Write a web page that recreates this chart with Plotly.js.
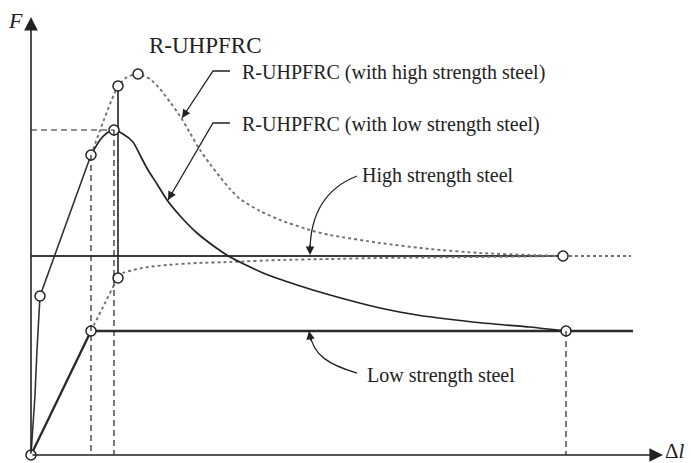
<!DOCTYPE html>
<html>
<head>
<meta charset="utf-8">
<script src="https://cdn.plot.ly/plotly-3.0.1.min.js"></script>
<style>html,body{margin:0;padding:0;background:#fff;}#chart{width:691px;height:463px;}</style>
</head>
<body>
<div id="chart"></div>
<script>
// ---- Data (schematic units: Δl to the right, F upward) ----
// R-UHPFRC with low strength steel (solid curve)
const ruLow_x = [0, 4, 6, 9, 60, 69, 76, 83, 92, 102, 110, 117, 126, 136, 151, 166, 184, 199, 232, 266, 299, 349, 386, 452, 499, 535];
const ruLow_y = [0, 60, 105, 159, 300, 315, 322, 325, 321, 313, 298, 285, 271, 255, 237, 222, 208, 198, 182, 170, 160, 147, 140, 132, 128, 124];
// R-UHPFRC with high strength steel (upper dotted curve after first crack)
const ruHigh_x = [60, 87, 96, 107, 119, 129, 139, 149, 159, 169, 179, 189, 199, 209, 229, 249, 282, 299, 349, 399, 449, 499, 532];
const ruHigh_y = [300, 369, 378, 381, 376, 366, 353, 339, 322, 305, 291, 278, 266, 256, 244, 235, 224, 220, 212, 206, 202, 200, 199];
// drop after peak of high steel composite
const drop_x = [87, 87];
const drop_y = [369, 177];
// lower dotted branch
const ruLower_x = [60, 72, 87, 92, 102, 117, 136, 166, 199, 249, 299, 349, 449, 532];
const ruLower_y = [124, 148, 177, 182, 185, 188, 190, 192, 193, 195, 196, 197, 198, 199];
// High strength steel
const highSteel_x = [0, 532];
const highSteel_y = [199, 199];
const highSteelExt_x = [532, 600];
const highSteelExt_y = [199, 199];
// Low strength steel
const lowSteel_x = [0, 60, 602];
const lowSteel_y = [0, 124, 124];
// Characteristic points (open circles)
const nodes_x = [0, 9, 60, 83, 87, 107, 87, 60, 532, 535];
const nodes_y = [0, 159, 300, 325, 369, 381, 177, 124, 199, 124];

// ---- Styling ----
const FONT = 'Liberation Serif, Times New Roman, serif';
const INK = '#222';
const DOT = '#707070';

const bIdx = 4; // index of first-crack point in ruLow
const traces = [
  {x: highSteel_x, y: highSteel_y, mode: 'lines', line: {color: '#3a3a3a', width: 1.8}},
  {x: highSteelExt_x, y: highSteelExt_y, mode: 'lines', line: {color: DOT, width: 1.8, dash: 'dot'}},
  {x: lowSteel_x, y: lowSteel_y, mode: 'lines', line: {color: '#2a2a2a', width: 2.3}},
  {x: ruHigh_x, y: ruHigh_y, mode: 'lines', line: {color: DOT, width: 1.9, dash: 'dot', shape: 'spline', smoothing: 0.6}},
  {x: ruLower_x, y: ruLower_y, mode: 'lines', line: {color: DOT, width: 1.9, dash: 'dot', shape: 'spline', smoothing: 0.6}},
  {x: ruLow_x.slice(0, bIdx + 1), y: ruLow_y.slice(0, bIdx + 1), mode: 'lines', line: {color: '#333', width: 1.6}},
  {x: ruLow_x.slice(bIdx), y: ruLow_y.slice(bIdx), mode: 'lines', line: {color: INK, width: 1.7, shape: 'spline', smoothing: 0.6}},
  {x: drop_x, y: drop_y, mode: 'lines', line: {color: INK, width: 1.6}},
  {x: nodes_x, y: nodes_y, mode: 'markers', marker: {symbol: 'circle', size: 10, color: '#fff', line: {color: INK, width: 1.5}}}
];
traces.forEach(t => { t.cliponaxis = false; t.hoverinfo = 'skip'; t.type = 'scatter'; });

// dashed guide lines derived from the characteristic points
const dashLine = {color: '#222', width: 1.2, dash: '6px,4px'};
const peakX = nodes_x[3], peakY = nodes_y[3];
const shapes = [
  {type: 'line', xref: 'x', yref: 'y', x0: 0, y0: peakY, x1: peakX, y1: peakY, line: dashLine},
  {type: 'line', xref: 'x', yref: 'y', x0: nodes_x[2], y0: nodes_y[2], x1: nodes_x[2], y1: 0, line: dashLine},
  {type: 'line', xref: 'x', yref: 'y', x0: peakX, y0: peakY, x1: peakX, y1: 0, line: dashLine},
  {type: 'line', xref: 'x', yref: 'y', x0: nodes_x[9], y0: nodes_y[9], x1: nodes_x[9], y1: 0, line: dashLine},
  // leader lines
  {type: 'path', xref: 'x', yref: 'y', path: 'M 199 384 L 182 384 L 151 337', line: {color: INK, width: 1.3}},
  {type: 'path', xref: 'x', yref: 'y', path: 'M 199 332 L 182 332 L 137 255', line: {color: INK, width: 1.3}},
  {type: 'path', xref: 'x', yref: 'y', path: 'M 326 279 C 298 268, 279 245, 279 203', line: {color: INK, width: 1.3}},
  {type: 'path', xref: 'x', yref: 'y', path: 'M 326 82 C 298 90, 282 100, 279 121', line: {color: INK, width: 1.3}}
];

function arrow(x, y, ax, ay, w, s, head) {
  return {x: x, y: y, ax: ax, ay: ay, xref: 'x', yref: 'y', axref: 'x', ayref: 'y',
          text: '', showarrow: true, arrowhead: head, arrowwidth: w, arrowsize: s, arrowcolor: INK, standoff: 0};
}
function label(x, y, text, size, anchor) {
  return {x: x, y: y, xref: 'x', yref: 'y', text: text, showarrow: false, xanchor: anchor || 'left', yanchor: 'middle',
          font: {family: FONT, size: size, color: INK}};
}
function paperLabel(x, y, text, size) {
  return {x: x, y: y, xref: 'paper', yref: 'paper', text: text, showarrow: false, xanchor: 'center', yanchor: 'middle',
          font: {family: FONT, size: size, color: INK}};
}

const annotations = [
  arrow(632, 0, 0, 0, 1.6, 1.7, 2),
  arrow(0, 438, 0, 0, 1.6, 1.7, 2),
  arrow(151, 337, 157, 346, 1.3, 1.3, 2),
  arrow(137, 255, 142, 264, 1.3, 1.3, 2),
  arrow(279, 200, 279, 212, 1.3, 1.3, 2),
  arrow(278, 124, 280, 113, 1.3, 1.3, 2),
  paperLabel(-0.0154, 0.9756, '<i>F</i>', 22),
  paperLabel(0.998, 0.0200, 'Δ<i>l</i>', 21),
  label(174, 410, 'R-UHPFRC', 23, 'center'),
  label(209, 383, 'R-UHPFRC (with high strength steel)', 20),
  label(209, 331, 'R-UHPFRC (with low strength steel)', 20),
  label(329, 280, 'High strength steel', 20),
  label(334, 80, 'Low strength steel', 20)
];

const layout = {
  width: 691, height: 463,
  margin: {l: 26, r: 15, t: 10, b: 3},
  paper_bgcolor: '#fff', plot_bgcolor: '#fff',
  showlegend: false,
  xaxis: {range: [-5, 645], visible: false, fixedrange: true},
  yaxis: {range: [-5, 445], visible: false, fixedrange: true},
  shapes: shapes,
  annotations: annotations
};

Plotly.newPlot('chart', traces, layout, {staticPlot: true, displayModeBar: false});
</script>
</body>
</html>
